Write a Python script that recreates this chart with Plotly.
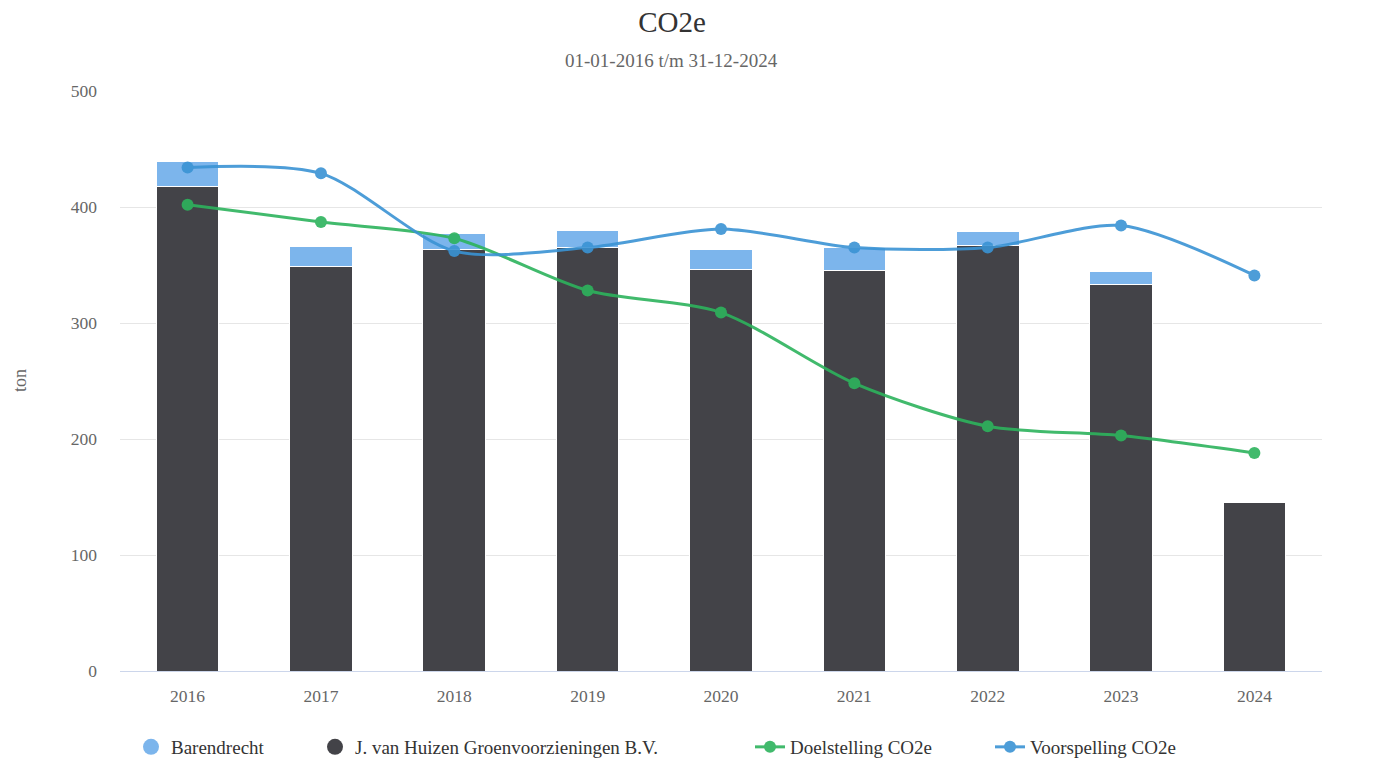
import plotly.graph_objects as go

# Data
years = ["2016", "2017", "2018", "2019", "2020", "2021", "2022", "2023", "2024"]
huizen = [418, 349, 363, 365, 346, 345, 367, 333, 145]
barendrecht = [21, 17, 14, 15, 17, 20, 12, 11, 0]
doelstelling = [402, 387, 373, 328, 309, 248, 211, 203, 188]
voorspelling = [434, 429, 362, 365, 381, 365, 365, 384, 341]

font_fam = "Liberation Serif"


# page pixel -> paper coordinates (plot area spans x 120..1322, y 91..671)
def px(x):
    return (x - 120) / 1202


def py(y):
    return (671 - y) / 580


fig = go.Figure()

# Stacked bars (dark at bottom)
fig.add_trace(go.Bar(
    x=years, y=huizen, name="J. van Huizen Groenvoorzieningen B.V.",
    marker=dict(color="#434348", line=dict(color="white", width=1)),
    width=0.47, showlegend=False
))
fig.add_trace(go.Bar(
    x=years, y=barendrecht, name="Barendrecht",
    marker=dict(color="#7cb5ec", line=dict(color="white", width=1)),
    width=0.47, showlegend=False
))

# Lines
fig.add_trace(go.Scatter(
    x=years, y=doelstelling, mode="lines+markers", name="Doelstelling CO2e",
    line=dict(color="#2db35d", width=3, shape="spline", smoothing=0.8),
    marker=dict(size=12, color="#2db35d"), opacity=0.9, legend="legend3"
))
fig.add_trace(go.Scatter(
    x=years, y=voorspelling, mode="lines+markers", name="Voorspelling CO2e",
    line=dict(color="#3a93d4", width=3, shape="spline", smoothing=0.8),
    marker=dict(size=12, color="#3a93d4"), opacity=0.9, legend="legend4"
))

# Legend entries for bars as circles
fig.add_trace(go.Scatter(
    x=[None], y=[None], mode="markers", name="Barendrecht",
    marker=dict(size=19, color="#7cb5ec"), legend="legend"
))
fig.add_trace(go.Scatter(
    x=[None], y=[None], mode="markers", name="J. van Huizen Groenvoorzieningen B.V.",
    marker=dict(size=19, color="#434348"), legend="legend2"
))

leg = dict(orientation="h", yanchor="middle", y=py(747), xanchor="left",
           font=dict(family=font_fam, size=19, color="#333333"),
           bgcolor="rgba(0,0,0,0)")

fig.update_layout(
    width=1382, height=760,
    margin=dict(l=120, r=60, t=91, b=89, autoexpand=False),
    plot_bgcolor="white", paper_bgcolor="white",
    barmode="stack",
    title=dict(text="CO2e", x=672 / 1382, xanchor="center", y=1 - 22 / 760, yanchor="middle",
               xref="container", yref="container",
               font=dict(family=font_fam, size=29, color="#333333")),
    font=dict(family=font_fam),
    xaxis=dict(showgrid=False, showline=True, linecolor="#ccd6eb", linewidth=1,
               tickfont=dict(family=font_fam, size=17.5, color="#666666"), ticks="",
               ticklabelstandoff=9),
    yaxis=dict(range=[0, 500], dtick=100, gridcolor="#e6e6e6", zeroline=False,
               showline=False, tickfont=dict(family=font_fam, size=17.5, color="#666666"),
               ticklabelstandoff=22),
    legend=dict(leg, x=px(131)),
    legend2=dict(leg, x=px(315)),
    legend3=dict(leg, x=px(750)),
    legend4=dict(leg, x=px(990)),
    annotations=[
        dict(text="01-01-2016 t/m 31-12-2024", xref="paper", yref="paper",
             x=px(671.5), y=py(60), xanchor="center", yanchor="middle",
             showarrow=False, font=dict(family=font_fam, size=19, color="#666666")),
        dict(text="ton", textangle=-90, xref="paper", yref="paper",
             x=px(20), y=py(381), xanchor="center", yanchor="middle",
             showarrow=False, font=dict(family=font_fam, size=18, color="#666666")),
    ],
)

# drop the browser's default body margin so the figure sits at the top-left corner
fig.write_html("out.html", config={"displayModeBar": False},
               post_script="document.body.style.margin='0';")
